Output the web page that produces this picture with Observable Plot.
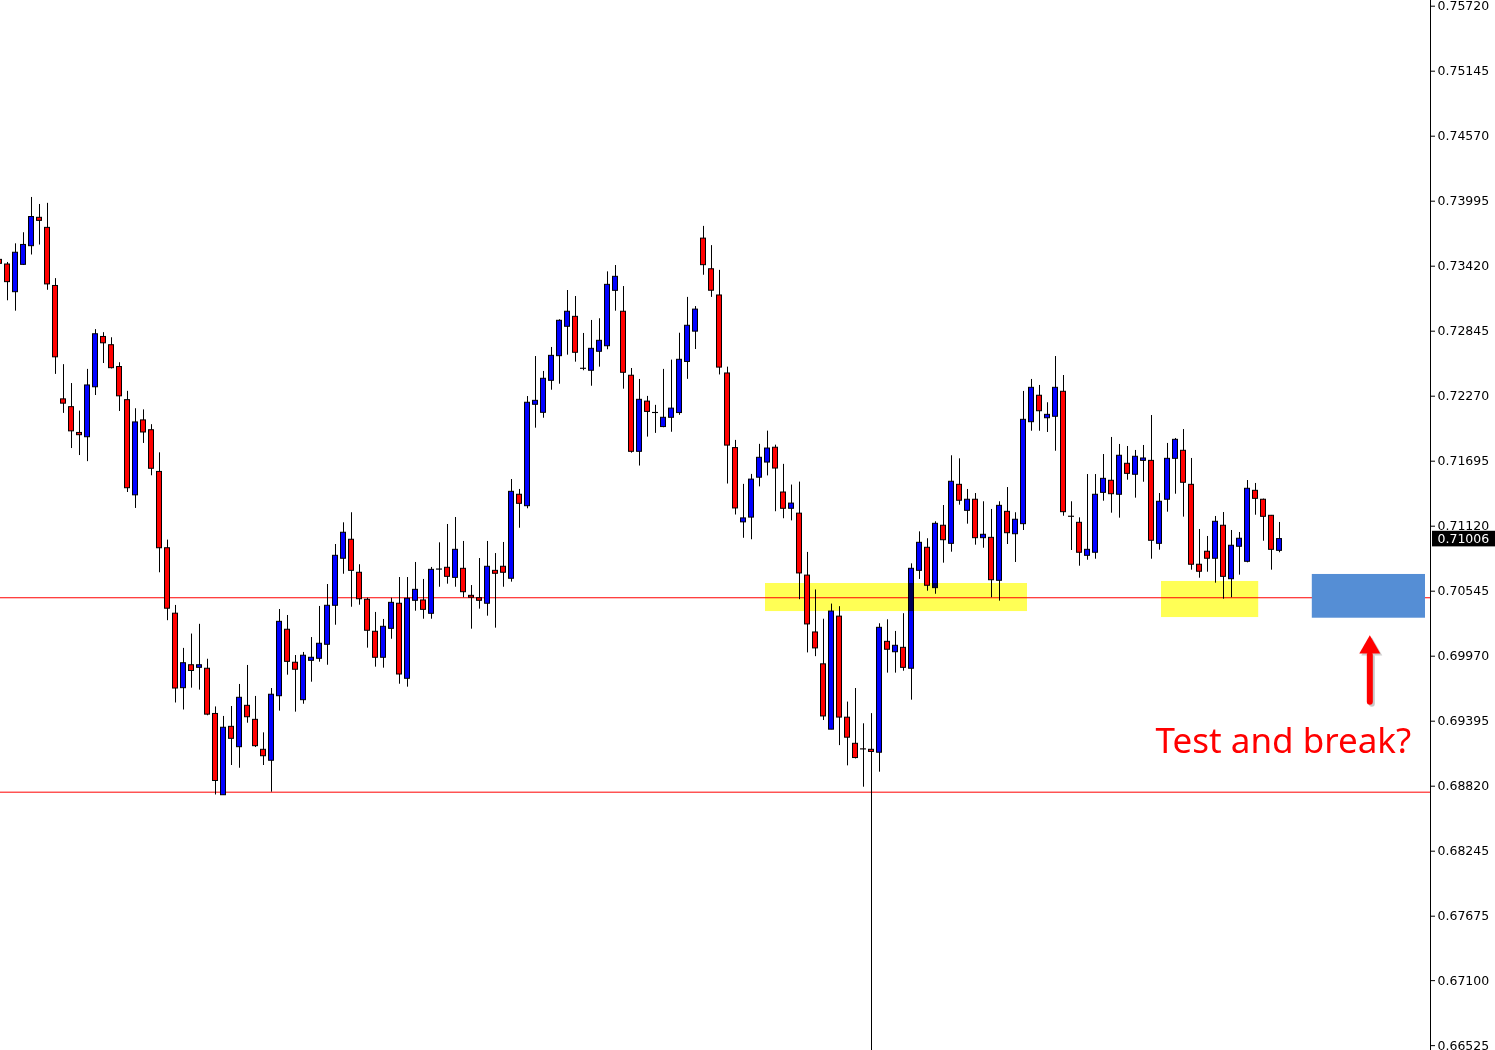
<!DOCTYPE html>
<html>
<head>
<meta charset="utf-8">
<script src="https://cdn.jsdelivr.net/npm/d3@7"></script>
<script src="https://cdn.jsdelivr.net/npm/@observablehq/plot@0.6"></script>
<style>
  body { margin: 0; background: #fff; }
  #chart svg { display: block; }
</style>
</head>
<body>
<div id="chart"></div>
<script>
// daily candles, oldest first (bar index 0 is half cut at the left edge)
const open = [
  0.73476,0.73435,0.73190,0.73432,0.73597,0.73848,0.73759,0.73245,0.72242,0.72173,
  0.71945,0.71907,0.72349,0.72794,0.72721,0.72528,0.72235,0.71393,0.72056,0.71969,
  0.71600,0.70925,0.70346,0.69687,0.69890,0.69867,0.69859,0.69459,0.68740,0.69345,
  0.69165,0.69531,0.69407,0.69142,0.69045,0.69616,0.70204,0.69912,0.69581,0.69929,
  0.69947,0.70071,0.70416,0.70832,0.71000,0.70708,0.70469,0.70186,0.69956,0.70212,
  0.70434,0.69770,0.70460,0.70463,0.70345,0.70736,0.70752,0.70663,0.70743,0.70504,
  0.70483,0.70434,0.70725,0.70761,0.70655,0.71398,0.71297,0.72194,0.72123,0.72406,
  0.72624,0.72884,0.72972,0.72513,0.72495,0.72663,0.72712,0.73202,0.73017,0.72451,
  0.71778,0.72222,0.72122,0.71997,0.72079,0.72121,0.72573,0.72841,0.73664,0.73393,
  0.73161,0.72471,0.71811,0.71154,0.71196,0.71549,0.71683,0.71814,0.71418,0.71274,
  0.71231,0.70683,0.70180,0.69898,0.69320,0.70320,0.69426,0.69195,0.69146,0.69142,
  0.69116,0.70097,0.70005,0.70044,0.69859,0.70725,0.70929,0.70572,0.71124,0.70964,
  0.71486,0.71256,0.71354,0.71014,0.71017,0.70637,0.71247,0.71049,0.71138,0.72040,
  0.72274,0.72075,0.72088,0.72309,0.71204,0.71150,0.70858,0.70885,0.71415,0.71522,
  0.71398,0.71672,0.71575,0.71698,0.71698,0.70964,0.71354,0.71716,0.71787,0.71486,
  0.70779,0.70894,0.70832,0.71124,0.70651,0.70938,0.70805,0.71433,0.71354,0.71212,
  0.70902
];
const high = [
  0.73497,0.73453,0.73618,0.73716,0.74028,0.73966,0.73976,0.73310,0.72549,0.72382,
  0.72138,0.72507,0.72859,0.72832,0.72787,0.72566,0.72313,0.72159,0.72149,0.72018,
  0.71769,0.70997,0.70419,0.70039,0.70166,0.70252,0.69943,0.69521,0.69437,0.69525,
  0.69720,0.69888,0.69614,0.69292,0.69684,0.70383,0.70330,0.69976,0.70003,0.70135,
  0.70410,0.70604,0.70958,0.71150,0.71239,0.70779,0.70483,0.70357,0.70295,0.70483,
  0.70666,0.70666,0.70799,0.70649,0.70755,0.70973,0.71135,0.71197,0.70985,0.70595,
  0.70834,0.70985,0.70878,0.70976,0.71533,0.71445,0.72267,0.72621,0.72489,0.72701,
  0.72946,0.73205,0.73152,0.72825,0.72940,0.72955,0.73370,0.73426,0.73240,0.72515,
  0.72418,0.72268,0.72189,0.72507,0.72589,0.72827,0.73144,0.73063,0.73772,0.73602,
  0.73383,0.72527,0.71879,0.71490,0.71578,0.71844,0.71961,0.71837,0.71667,0.71484,
  0.71510,0.70888,0.70556,0.70297,0.70431,0.70408,0.69564,0.69684,0.69372,0.69460,
  0.70257,0.70292,0.70189,0.70346,0.70787,0.71070,0.71009,0.71159,0.71303,0.71743,
  0.71716,0.71445,0.71409,0.71336,0.71268,0.71336,0.71462,0.71239,0.72312,0.72418,
  0.72365,0.72212,0.72621,0.72453,0.71336,0.71194,0.71577,0.71577,0.71754,0.71905,
  0.71843,0.71825,0.71790,0.71834,0.72099,0.71409,0.71852,0.71896,0.71975,0.71719,
  0.71091,0.71029,0.71206,0.71241,0.71082,0.71064,0.71524,0.71498,0.71360,0.71215,
  0.71153
];
const low = [
  0.73426,0.73114,0.73022,0.73426,0.73519,0.73607,0.73207,0.72463,0.72118,0.71807,
  0.71745,0.71691,0.72276,0.72559,0.72511,0.72135,0.71418,0.71277,0.71852,0.71566,
  0.70708,0.70284,0.69556,0.69494,0.69687,0.69670,0.69443,0.68742,0.68740,0.69003,
  0.68979,0.69377,0.69162,0.69003,0.68767,0.69484,0.69802,0.69475,0.69545,0.69740,
  0.69917,0.69890,0.70244,0.70695,0.70403,0.70421,0.70041,0.69873,0.69864,0.70120,
  0.69722,0.69696,0.70368,0.70297,0.70297,0.70580,0.70607,0.70580,0.70487,0.70209,
  0.70386,0.70324,0.70218,0.70580,0.70625,0.71102,0.71274,0.71987,0.72075,0.72323,
  0.72376,0.72633,0.72571,0.72495,0.72358,0.72527,0.72681,0.73022,0.72332,0.71766,
  0.71652,0.71908,0.71941,0.71991,0.71951,0.72101,0.72419,0.72683,0.73340,0.73144,
  0.72458,0.71493,0.71219,0.71013,0.71000,0.71468,0.71565,0.71248,0.71186,0.71167,
  0.70470,0.69999,0.69966,0.69401,0.69320,0.69179,0.69000,0.69061,0.68811,0.68915,
  0.68944,0.69820,0.69820,0.69837,0.69581,0.70649,0.70545,0.70518,0.70793,0.70890,
  0.71306,0.71138,0.70952,0.70925,0.70487,0.70457,0.70958,0.70799,0.71082,0.71960,
  0.71960,0.71949,0.71783,0.71208,0.70905,0.70766,0.70819,0.70828,0.71341,0.71235,
  0.71191,0.71527,0.71368,0.71509,0.70828,0.70908,0.71244,0.71403,0.71200,0.70731,
  0.70660,0.70713,0.70616,0.70474,0.70487,0.70687,0.70796,0.71217,0.70987,0.70731,
  0.70885
];
const close = [
  0.73441,0.73279,0.73539,0.73608,0.73855,0.73821,0.73259,0.72614,0.72204,0.71959,
  0.71925,0.72365,0.72818,0.72738,0.72518,0.72269,0.71456,0.72038,0.71949,0.71628,
  0.70925,0.70390,0.69684,0.69908,0.69839,0.69890,0.69453,0.68866,0.69337,0.69239,
  0.69602,0.69430,0.69174,0.69085,0.69629,0.70274,0.69920,0.69850,0.69974,0.69956,
  0.70080,0.70416,0.70858,0.71062,0.70725,0.70474,0.70195,0.69956,0.70230,0.70442,
  0.69808,0.70478,0.70557,0.70380,0.70734,0.70737,0.70672,0.70911,0.70536,0.70487,
  0.70460,0.70761,0.70699,0.70708,0.71424,0.71318,0.72212,0.72229,0.72424,0.72627,
  0.72937,0.73017,0.72654,0.72512,0.72689,0.72760,0.73255,0.73326,0.72477,0.71778,
  0.72238,0.72131,0.72121,0.72079,0.72160,0.72592,0.72893,0.73036,0.73429,0.73203,
  0.72523,0.71833,0.71277,0.71189,0.71532,0.71725,0.71807,0.71630,0.71274,0.71320,
  0.70702,0.70251,0.70039,0.69437,0.70365,0.69427,0.69249,0.69069,0.69145,0.69123,
  0.70221,0.70027,0.70062,0.69867,0.70743,0.70973,0.70593,0.71141,0.70996,0.71513,
  0.71345,0.71354,0.71014,0.71044,0.70642,0.71300,0.71058,0.71177,0.72061,0.72344,
  0.72137,0.72105,0.72344,0.71244,0.71203,0.70885,0.70911,0.71398,0.71539,0.71403,
  0.71743,0.71583,0.71734,0.71719,0.70991,0.71336,0.71716,0.71884,0.71504,0.70779,
  0.70717,0.70832,0.71159,0.70672,0.70947,0.71009,0.71451,0.71362,0.71203,0.70911,
  0.71006
];

// price axis
const tickValues = [0.75720,0.75145,0.74570,0.73995,0.73420,0.72845,0.72270,0.71695,0.71120,
                    0.70545,0.69970,0.69395,0.68820,0.68245,0.67670,0.67100,0.66525];
const tickLabels = ["0.75720","0.75145","0.74570","0.73995","0.73420","0.72845","0.72270","0.71695","0.71120",
                    "0.70545","0.69970","0.69395","0.68820","0.68245","0.67675","0.67100","0.66525"];
const lastPrice = "0.71006";

// drawn objects
const levels = [0.70487, 0.68767];          // horizontal lines
const crossBar = 109;                        // vertical line under this bar
const zoneX1 = [95.75, 145.25];
const zoneX2 = [128.5, 157.4];
const zoneTop = [0.70613, 0.70631];
const zoneBottom = [0.70365, 0.70312];
const target = {x1: 164.1, x2: 178.25, top: 0.70693, bottom: 0.70306};
const arrow = {x: 171.29, from: 0.69563, to: 0.69976, head: 0.70047};
const note = {x: 144.5, y: 0.69214, text: "Test and break?"};

const xMin = 0.125, xMax = 178.875;          // visible bar range
const yMin = 0.664819, yMax = 0.757704;      // visible price range
const bodyHalf = 0.3125;

const bars = d3.range(open.length);
const zones = d3.range(zoneX1.length);
const tickLabel = new Map(tickValues.map((v, i) => [v, tickLabels[i]]));
const last = +lastPrice;

const chart = Plot.plot({
  width: 1495,
  height: 1050,
  marginLeft: 0,
  marginRight: 65,
  marginTop: 0,
  marginBottom: 0,
  style: {fontFamily: "DejaVu Sans", fontSize: "12.5px", background: "#fff", color: "#000"},
  x: {domain: [xMin, xMax], axis: null},
  y: {domain: [yMin, yMax], axis: null},
  color: {type: "identity"},
  marks: [
    Plot.ruleY(levels, {stroke: "#ff0000"}),
    Plot.ruleX([crossBar], {y1: high[crossBar], y2: yMin, stroke: "#000"}),

    // wicks, then bodies
    Plot.ruleX(bars, {x: i => i, y1: i => low[i], y2: i => high[i], stroke: "#000", clip: true}),
    Plot.rect(bars, {
      x1: i => i - bodyHalf, x2: i => i + bodyHalf,
      y1: i => open[i], y2: i => close[i],
      fill: i => close[i] >= open[i] ? "#0000ff" : "#ff0000",
      stroke: "#000", strokeWidth: 1, clip: true
    }),

    // highlighted zones (multiply like a marker pen)
    Plot.rect(zones, {
      x1: i => zoneX1[i], x2: i => zoneX2[i], y1: i => zoneBottom[i], y2: i => zoneTop[i],
      fill: "#ffff55", mixBlendMode: "multiply"
    }),
    Plot.rect([target], {x1: "x1", x2: "x2", y1: "bottom", y2: "top", fill: "#558ed5"}),

    // arrow with a soft shadow
    Plot.ruleX([arrow], {x: "x", y1: "from", y2: "to", stroke: "#c8c8c8", strokeWidth: 6,
      strokeLinecap: "round", dx: 2, dy: 2}),
    Plot.dot([arrow], {x: "x", y: "head", symbol: "triangle", r: 7.8, fill: "#d0d0d0", dx: 2, dy: 2}),
    Plot.ruleX([arrow], {x: "x", y1: "from", y2: "to", stroke: "#ff0000", strokeWidth: 6, strokeLinecap: "round"}),
    Plot.dot([arrow], {x: "x", y: "head", symbol: "triangle", r: 7.8, fill: "#ff0000"}),
    Plot.text([note], {x: "x", y: "y", text: "text", textAnchor: "start", fill: "#ff0000",
      fontSize: 35, fontFamily: "Noto Sans"}),

    // right price axis
    Plot.ruleX([xMax], {stroke: "#000"}),
    Plot.axisY({anchor: "right", ticks: tickValues, tickFormat: d => tickLabel.get(d),
      tickSize: 4, tickPadding: 3}),
    Plot.rect([last], {x1: xMax + 0.25, x2: xMax + 65 / 8, y1: d => d - 0.00069, y2: d => d + 0.00069,
      fill: "#000"}),
    Plot.text([last], {x: xMax, y: d => d, text: [lastPrice], dx: 7, textAnchor: "start", fill: "#fff"})
  ]
});

document.getElementById("chart").append(chart);
</script>
</body>
</html>
